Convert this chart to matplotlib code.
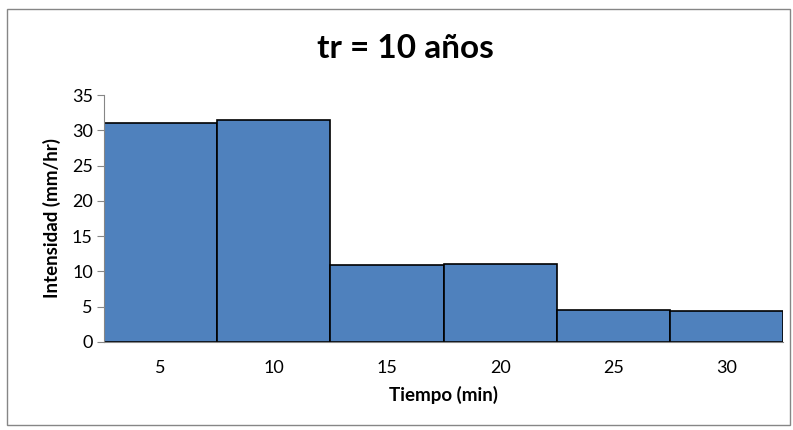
import matplotlib
matplotlib.use("Agg")
import matplotlib.pyplot as plt
from matplotlib.patches import Rectangle

categories = ["5", "10", "15", "20", "25", "30"]
values = [31.1, 31.4, 10.9, 11.1, 4.5, 4.35]

plt.rcParams['font.family'] = ['Lato', 'DejaVu Sans']

fig = plt.figure(figsize=(7.93, 4.30), dpi=100)
ax = fig.add_axes([104/793, 1-342/430, (783-104)/793, (342-95)/430])

x = list(range(len(categories)))
ax.bar(x, values, width=1.0, color="#4F81BD", edgecolor="black", linewidth=1.2)
ax.set_xlim(-0.5, len(categories)-0.5)
ax.set_ylim(0, 35)
ax.set_yticks(range(0, 36, 5))
ax.set_xticks(x)
ax.set_xticklabels(categories)
ax.tick_params(axis='x', length=0, labelsize=13, pad=13)
ax.tick_params(axis='y', length=5, color="#868686", labelsize=13, pad=3)
for s in ["top", "right"]:
    ax.spines[s].set_visible(False)
for s in ["left", "bottom"]:
    ax.spines[s].set_color("#868686")
ax.set_xlabel("Tiempo (min)", fontsize=13.5, fontweight="bold", labelpad=7)
ax.set_ylabel("Intensidad (mm/hr)", fontsize=13.5, fontweight="bold", labelpad=8)
fig.text(405/793, 1-48/430, "tr = 10 años", ha="center", va="center", fontsize=24, fontweight="bold")

fig.patches.append(Rectangle((7/793, 1-425/430), (790-7)/793, (425-9)/430, transform=fig.transFigure,
                             fill=False, edgecolor="#868686", linewidth=1))
fig.savefig("out.png", dpi=100)
